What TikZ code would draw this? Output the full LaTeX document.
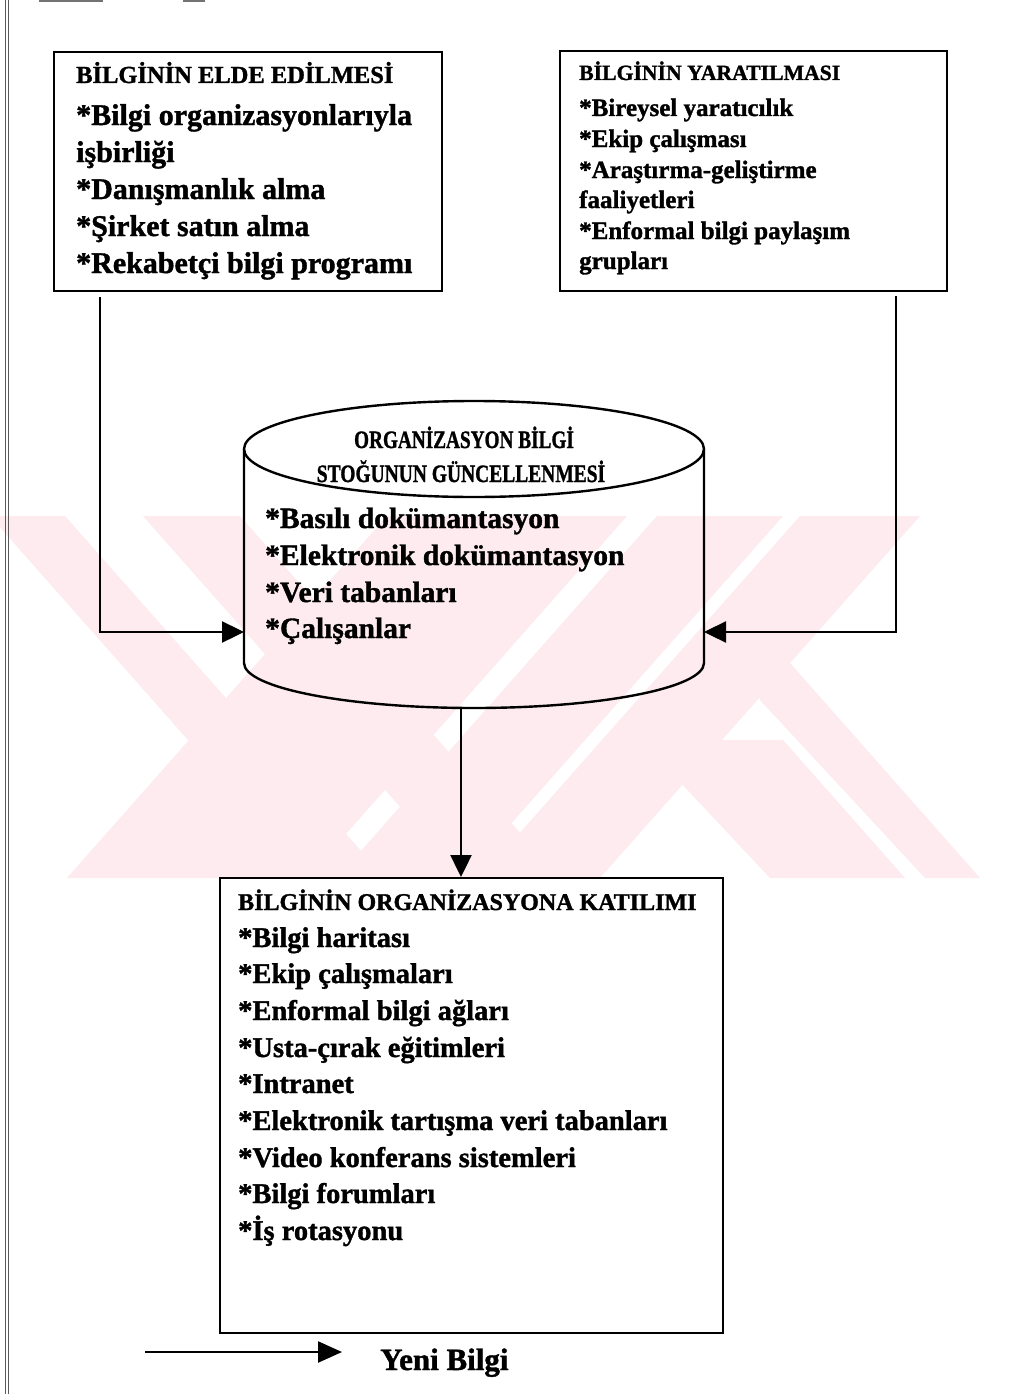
\documentclass[tikz,border=0pt]{standalone}
\usepackage{fontspec}
\setmainfont{Liberation Serif}[BoldFeatures={FakeBold=1.3}]
\usetikzlibrary{arrows.meta}
\definecolor{wm}{RGB}{253,235,239}
\begin{document}
\begin{tikzpicture}[x=1pt,y=-1pt,
  boxst/.style={draw, line width=2.4pt, inner sep=0pt, anchor=north west},
  conn/.style={line width=2.4pt, -{Triangle[length=22pt,width=21pt]}},
  tx/.style={anchor=base west, inner sep=0pt, font=\bfseries\fontsize{#1}{#1}\selectfont},
  hd/.style={anchor=base, inner sep=0pt, font=\bfseries\fontsize{#1}{#1}\selectfont},
]
\useasboundingbox (0,0) rectangle (1013,1394);
\fill[white] (0,0) rectangle (1013,1394);

% faint watermark
\begin{scope}
\clip (0,516) rectangle (1013,878);
\fill[wm] (-10,516) -- (65,516) -- (385,878) -- (310,878) -- cycle;
\fill[wm] (143,516) -- (240,516) -- (560,878) -- (463,878) -- cycle;
\fill[wm] (387,516) -- (627,516) -- (307,878) -- (67,878) -- cycle;
\fill[wm] (657,516) -- (783,516) -- (463,878) -- (337,878) -- cycle;
\fill[wm] (800,516) -- (920,516) -- (600,878) -- (480,878) -- cycle;
\fill[wm] (750,663) -- (790,663) -- (980,878) -- (925,878) -- (760,700) -- cycle;
\fill[wm] (680,782) -- (770,878) -- (905,878) -- (783,740) -- (715,740) -- cycle;
\end{scope}

% page border remnants
\draw[black!65, line width=1.3pt] (5.5,0) -- (5.5,1394);
\draw[black!65, line width=1.3pt] (8.5,0) -- (8.5,1394);
\draw[black!55, line width=2pt] (39,1) -- (103,1);
\draw[black!55, line width=2pt] (183,1) -- (205,1);

% boxes
\node[boxst, minimum width=388pt, minimum height=239pt] (b1) at (53,51) {};
\node[boxst, minimum width=387pt, minimum height=240pt] (b2) at (559,50) {};
\node[boxst, minimum width=503pt, minimum height=455pt] (b3) at (219,877) {};
\node[anchor=north west, inner sep=0pt, minimum width=460pt, minimum height=307pt] (cyl) at (244,401) {};

% cylinder outline
\draw[line width=2.4pt] (474,449) ellipse [x radius=230, y radius=48];
\draw[line width=2.4pt] (244,449) -- (244,663) arc[start angle=180, end angle=0, x radius=230, y radius=45] -- (704,449);

% box 1 text
\node[tx=24.5] (b1h) at (76,83) {BİLGİNİN ELDE EDİLMESİ};
\node[tx=30] (b1a) at (76,125) {*Bilgi organizasyonlarıyla};
\node[tx=30] (b1b) at (76,162) {işbirliği};
\node[tx=30] (b1c) at (76,199) {*Danışmanlık alma};
\node[tx=30] (b1d) at (76,236) {*Şirket satın alma};
\node[tx=30] (b1e) at (76,273) {*Rekabetçi bilgi programı};

% box 2 text
\node[tx=21.7] (b2h) at (579,80) {BİLGİNİN YARATILMASI};
\node[tx=25] (b2a) at (579,116) {*Bireysel yaratıcılık};
\node[tx=25] (b2b) at (579,147) {*Ekip çalışması};
\node[tx=25] (b2c) at (579,178) {*Araştırma-geliştirme};
\node[tx=25] (b2d) at (579,208) {faaliyetleri};
\node[tx=25] (b2e) at (579,239) {*Enformal bilgi paylaşım};
\node[tx=25] (b2f) at (579,269) {grupları};

% cylinder text
\node[hd=25] (ch1) at (464,448) {\scalebox{0.77}[1]{ORGANİZASYON BİLGİ}};
\node[hd=25] (ch2) at (461,482) {\scalebox{0.78}[1]{STOĞUNUN GÜNCELLENMESİ}};
\node[tx=29.5] (c1) at (265,528) {*Basılı dokümantasyon};
\node[tx=29.5] (c2) at (265,565) {*Elektronik dokümantasyon};
\node[tx=29.5] (c3) at (265,602) {*Veri tabanları};
\node[tx=29.5] (c4) at (265,638) {*Çalışanlar};

% box 3 text
\node[tx=24] (b3h) at (238,910) {BİLGİNİN ORGANİZASYONA KATILIMI};
\node[tx=28.5] (b3a) at (238,947) {*Bilgi haritası};
\node[tx=28.5] (b3b) at (238,983) {*Ekip çalışmaları};
\node[tx=28.5] (b3c) at (238,1020) {*Enformal bilgi ağları};
\node[tx=28.5] (b3d) at (238,1057) {*Usta-çırak eğitimleri};
\node[tx=28.5] (b3e) at (238,1093) {*Intranet};
\node[tx=28.5] (b3f) at (238,1130) {*Elektronik tartışma veri tabanları};
\node[tx=28.5] (b3g) at (238,1167) {*Video konferans sistemleri};
\node[tx=28.5] (b3h2) at (238,1203) {*Bilgi forumları};
\node[tx=28.5] (b3i) at (238,1240) {*İş rotasyonu};

% connectors
\coordinate (s1) at (100,297);
\coordinate (t1) at (244,632);
\coordinate (s2) at (896,296);
\coordinate (t2) at (704,632);
\coordinate (s3) at (461,708);
\draw[conn] (s1) |- (t1);
\draw[conn] (s2) |- (t2);
\draw[conn] (s3) -- (s3 |- b3.north);

% legend
\coordinate (l1) at (145,1352);
\coordinate (l2) at (342,1352);
\draw[line width=2.4pt, -{Triangle[length=24pt,width=21pt]}] (l1) -- (l2);
\node[tx=31] (yb) at (380,1370) {Yeni Bilgi};
\end{tikzpicture}
\end{document}
